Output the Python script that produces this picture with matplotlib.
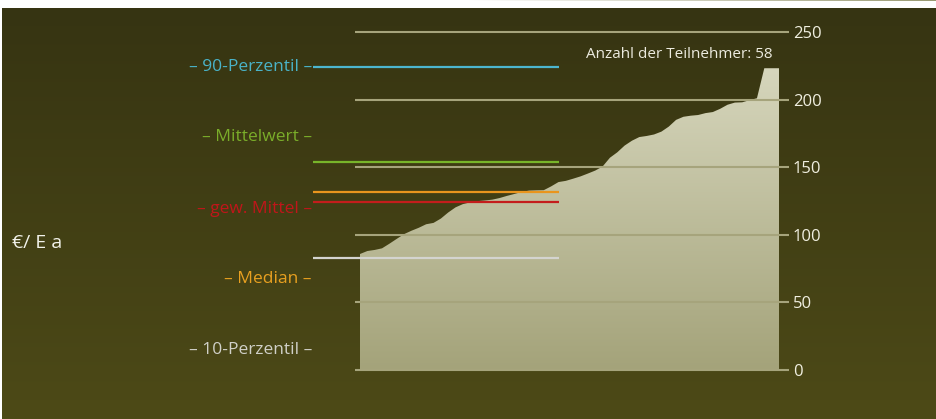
import numpy as np
import matplotlib.pyplot as plt
import matplotlib.transforms as mtransforms
from matplotlib.colors import LinearSegmentedColormap

# sorted values per participant (EUR per inhabitant and year)
values = [85.8, 88, 88.8, 90, 93.4, 97, 100.5, 103, 105.2, 107.8,
          108.8, 112, 116.5, 120.3, 122.7, 124, 124.9, 125.4, 126, 127.2,
          128.8, 130.2, 131.7, 132.7, 132.9, 133, 135.8, 139, 139.9, 141.5,
          143.2, 145.3, 147.5, 150.5, 157, 161, 166, 169.6, 172.3, 173.1,
          174.2, 176.3, 180, 185, 187.3, 188.1, 188.6, 190, 190.8, 193.2,
          196.2, 197.8, 198, 199.6, 201, 223.2, 223.2, 223.2]

stat_names = ["90-Perzentil", "Mittelwert", "gew. Mittel", "Median", "10-Perzentil"]
stat_values = [224.3, 154.1, 124.5, 131.4, 83.1]
stat_colors = ["#4cb6cf", "#78b52a", "#c41d1c", "#e9951d", "#d4d4d0"]
label_colors = ["#4ab3c8", "#7aad2a", "#c0161a", "#e8a020", "#d0d0c8"]

yticks = [0, 50, 100, 150, 200, 250]
n_label = "Anzahl der Teilnehmer: 58"
unit_label = "€/ E a"

W, H = 936, 419
fig = plt.figure(figsize=(W / 100, H / 100), dpi=100, facecolor="white")

# dark olive background with a soft vertical gradient
bg = fig.add_axes([2 / W, 0, 1 - 2 / W, 1 - 8 / H])
bg.axis("off")
bg_cmap = LinearSegmentedColormap.from_list("bg", ["#363412", "#4d4a17"])
bg.imshow(np.linspace(0, 1, 256).reshape(-1, 1), aspect="auto", cmap=bg_cmap,
          extent=[0, 1, 0, 1])

# thin fading line at the very top
topline = fig.add_axes([0.5, 1 - 1.5 / H, 0.5, 1.5 / H])
topline.axis("off")
top_cmap = LinearSegmentedColormap.from_list("top", ["#ffffff", "#9a9a72"])
topline.imshow(np.linspace(0, 1, 256).reshape(1, -1), aspect="auto", cmap=top_cmap,
               extent=[0, 1, 0, 1])

# main axes: y 0 at px 370, 250 at px 32
ppu = (370 - 32) / 250
ylo, yhi = -3, 253
top_px = 32 - (yhi - 250) * ppu
bot_px = 370 - ylo * ppu
ax = fig.add_axes([355 / W, 1 - bot_px / H, 428 / W, (bot_px - top_px) / H])
ax.patch.set_alpha(0)

x = np.arange(len(values))
xlim = (-5 / 7.35, len(values) - 1 + 4 / 7.35)

# area with vertical gradient
fill = ax.fill_between(x, values, 0, color="none", lw=0)
area_cmap = LinearSegmentedColormap.from_list("area", ["#a4a37a", "#dcdcc4"])
img = ax.imshow(np.linspace(0, 1, 256).reshape(-1, 1), origin="lower",
                aspect="auto", cmap=area_cmap,
                extent=[x[0], x[-1], 0, 250], zorder=1)
img.set_clip_path(fill.get_paths()[0], transform=ax.transData)
ax.set_xlim(*xlim)
ax.set_ylim(ylo, yhi)

for t in yticks:
    ax.axhline(t, color="#a6a47c", lw=1.5, zorder=2)

for s in ax.spines.values():
    s.set_visible(False)
ax.set_xticks([])
ax.yaxis.tick_right()
ax.set_yticks(yticks)
ax.tick_params(axis="y", length=4, width=1.5, color="#a6a47c",
               labelcolor="#f0efe0", labelsize=12, pad=3)
for lab in ax.get_yticklabels():
    lab.set_family("Open Sans")

# statistic lines, extending left beyond the axes
trans = mtransforms.blended_transform_factory(ax.transAxes, ax.transData)
for v, c in zip(stat_values, stat_colors):
    ax.plot([-0.098, 0.477], [v, v], color=c, lw=1.6, transform=trans,
            clip_on=False, zorder=3, solid_capstyle="butt")

# legend-like labels
label_y = [67, 137, 209, 279, 350]
for name, c, yp in zip(stat_names, label_colors, label_y):
    fig.text(312 / W, 1 - yp / H, "\u2013 " + name + " \u2013", color=c,
             ha="right", va="center", fontsize=12.5, family="Open Sans")

ax.text(0.975, 1 - 55 / H, n_label,
        transform=mtransforms.blended_transform_factory(ax.transAxes, fig.transFigure),
        ha="right", va="center", color="#ecebdf", fontsize=11, family="Open Sans", zorder=4)

fig.text(12 / W, 1 - 243 / H, unit_label, color="#f2f2ea", ha="left", va="center",
         fontsize=14, family="Open Sans")

fig.savefig("out.png", dpi=100, facecolor="white")
